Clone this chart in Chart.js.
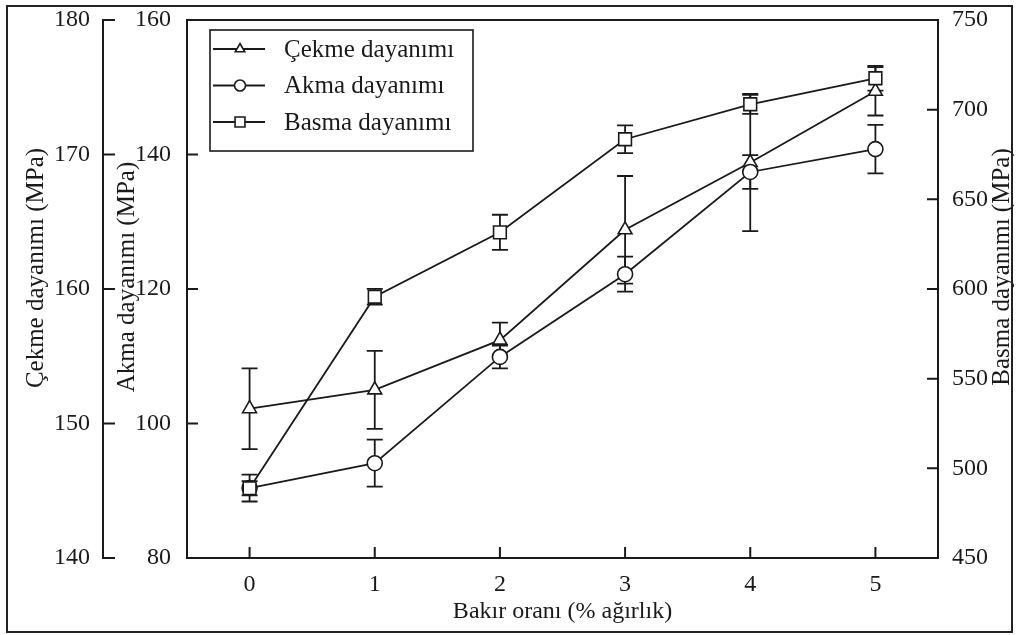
<!DOCTYPE html>
<html>
<head>
<meta charset="utf-8">
<script src="https://cdn.jsdelivr.net/npm/chart.js@4.4.1/dist/chart.umd.min.js"></script>
<style>
  html, body { margin: 0; padding: 0; background: #fff; }
  #wrap { width: 1018px; height: 635px; }
</style>
</head>
<body>
<div id="wrap"><canvas id="c" width="1018" height="635"></canvas></div>
<script>
// Copper content (wt.%) on the x axis
const categories = ['0', '1', '2', '3', '4', '5'];

// Tensile strength (MPa) and its standard deviation
const cekme    = [151.1, 152.5, 156.2, 164.4, 169.4, 174.7];
const cekmeErr = [3.0, 2.9, 1.3, 4.0, 5.1, 1.8];

// Yield strength (MPa) and its standard deviation
const akma     = [90.4, 94.1, 109.9, 122.2, 137.4, 140.8];
const akmaErr  = [2.0, 3.5, 1.7, 2.6, 2.5, 3.6];

// Compressive strength (MPa) and its standard deviation
const basma    = [488.9, 595.7, 631.6, 683.5, 703.0, 717.5];
const basmaErr = [4.0, 4.4, 9.8, 7.7, 5.3, 6.9];

const seriesNames = ['Çekme dayanımı', 'Akma dayanımı', 'Basma dayanımı'];

// Tick values of the three value axes
const cekmeTicks = [140, 150, 160, 170, 180];
const akmaTicks  = [80, 100, 120, 140, 160];
const basmaTicks = [450, 500, 550, 600, 650, 700, 750];

const xTitle     = 'Bakır oranı (% ağırlık)';
const cekmeTitle = 'Çekme dayanımı (MPa)';
const akmaTitle  = 'Akma dayanımı (MPa)';
const basmaTitle = 'Basma dayanımı (MPa)';

const INK = '#1a1a1a';
const FAMILY = '"Liberation Serif", "Times New Roman", serif';
const SIZE = 24;
const TITLE_SIZE = 25;

function setTicks(values) {
  return scale => { scale.ticks = values.map(v => ({ value: v })); };
}

function valueAxis(position, weight, min, max, tickValues, width, pad) {
  return {
    type: 'linear',
    position, weight, min, max,
    grid: { display: false, drawTicks: false },
    border: { display: false },
    title: { display: false },
    ticks: { color: INK, font: { family: FAMILY, size: SIZE }, padding: pad, autoSkip: false },
    afterBuildTicks: setTicks(tickValues),
    afterFit: scale => {
      scale.width = width;
      // end labels may overhang the plot; keep the plot height fixed
      scale.paddingTop = 0;
      scale.paddingBottom = 0;
    }
  };
}

function verticalText(ctx, text, x, y) {
  ctx.save();
  ctx.translate(x, y);
  ctx.rotate(-Math.PI / 2);
  ctx.textAlign = 'center';
  ctx.textBaseline = 'middle';
  ctx.fillText(text, 0, 0);
  ctx.restore();
}

function drawMarker(ctx, style, x, y, r) {
  ctx.beginPath();
  if (style === 'triangle') {
    ctx.moveTo(x, y - r);
    ctx.lineTo(x + r * 0.866, y + r * 0.5);
    ctx.lineTo(x - r * 0.866, y + r * 0.5);
    ctx.closePath();
  } else if (style === 'rect') {
    const h = r * Math.SQRT1_2;
    ctx.rect(x - h, y - h, 2 * h, 2 * h);
  } else {
    ctx.arc(x, y, r, 0, Math.PI * 2);
  }
  ctx.fill();
  ctx.stroke();
}

const decorations = {
  id: 'decorations',
  beforeDraw(chart) {
    const { ctx, width, height } = chart;
    ctx.save();
    ctx.fillStyle = '#fff';
    ctx.fillRect(0, 0, width, height);
    ctx.restore();
  },
  // error bars go underneath the hollow markers
  beforeDatasetsDraw(chart) {
    const { ctx } = chart;
    const xs = chart.scales.x;
    ctx.save();
    ctx.strokeStyle = INK;
    ctx.lineWidth = 1.8;
    chart.data.datasets.forEach(ds => {
      const ys = chart.scales[ds.yAxisID];
      ds.data.forEach((v, j) => {
        const e = ds.errors[j];
        const x = xs.getPixelForValue(j);
        const y1 = ys.getPixelForValue(v + e);
        const y2 = ys.getPixelForValue(v - e);
        ctx.beginPath();
        ctx.moveTo(x, y1); ctx.lineTo(x, y2);
        ctx.moveTo(x - 8, y1); ctx.lineTo(x + 8, y1);
        ctx.moveTo(x - 8, y2); ctx.lineTo(x + 8, y2);
        ctx.stroke();
      });
    });
    ctx.restore();
  },
  afterDatasetsDraw(chart) {
    const { ctx } = chart;
    const { left, right, top, bottom } = chart.chartArea;
    const xs = chart.scales.x, yc = chart.scales.yC, ya = chart.scales.yA, yb = chart.scales.yB;
    const TL = 11;

    ctx.save();
    ctx.strokeStyle = INK;
    ctx.lineWidth = 2;
    ctx.lineCap = 'butt';

    // plot frame
    ctx.strokeRect(left, top, right - left, bottom - top);

    ctx.beginPath();
    // inner left axis ticks (yield strength)
    ya.ticks.forEach(t => {
      const y = ya.getPixelForValue(t.value);
      ctx.moveTo(left, y); ctx.lineTo(left + TL, y);
    });
    // right axis ticks (compressive strength)
    yb.ticks.forEach(t => {
      const y = yb.getPixelForValue(t.value);
      ctx.moveTo(right, y); ctx.lineTo(right - TL, y);
    });
    // x ticks
    categories.forEach((c, j) => {
      const x = xs.getPixelForValue(j);
      ctx.moveTo(x, bottom); ctx.lineTo(x, bottom - TL);
    });
    // outer left axis (tensile strength) with its own spine
    const ox = yc.right;
    ctx.moveTo(ox, top - 1); ctx.lineTo(ox, bottom + 1);
    yc.ticks.forEach(t => {
      const y = yc.getPixelForValue(t.value);
      ctx.moveTo(ox, y); ctx.lineTo(ox + TL + 1, y);
    });
    ctx.stroke();

    // axis titles
    ctx.fillStyle = INK;
    ctx.font = TITLE_SIZE + 'px ' + FAMILY;
    verticalText(ctx, cekmeTitle, yc.left + 26, top + 248);
    verticalText(ctx, akmaTitle, ya.left + 24, top + 257);
    verticalText(ctx, basmaTitle, yb.right - 6, top + 247);

    // legend box
    const lx = left + 23, ly = top + 10, lw = 263, lh = 121;
    ctx.lineWidth = 1.6;
    ctx.strokeRect(lx, ly, lw, lh);
    ctx.textAlign = 'left';
    ctx.textBaseline = 'middle';
    chart.data.datasets.forEach((ds, i) => {
      const ry = top + 29 + i * 36.5;
      ctx.lineWidth = 1.8;
      ctx.beginPath();
      ctx.moveTo(lx + 3, ry); ctx.lineTo(lx + 55, ry);
      ctx.stroke();
      ctx.fillStyle = '#fff';
      ctx.lineWidth = 1.6;
      drawMarker(ctx, ds.pointStyle, lx + 30, ry, ds.pointStyle === 'rect' ? 7 : 5.5);
      ctx.fillStyle = INK;
      ctx.fillText(ds.label, lx + 74, ry + 1);
    });

    // figure border
    ctx.lineWidth = 2;
    ctx.strokeStyle = '#222';
    ctx.strokeRect(7, 6, chart.width - 13, chart.height - 9);
    ctx.restore();
  }
};

function series(label, data, errors, axis, style, radius, order) {
  return {
    label, data, errors, yAxisID: axis, order,
    borderColor: INK, borderWidth: 1.8,
    pointStyle: style, pointRadius: radius, pointHoverRadius: radius,
    pointBackgroundColor: '#fff', pointBorderColor: INK, pointBorderWidth: 1.6,
    fill: false, tension: 0
  };
}

new Chart(document.getElementById('c'), {
  type: 'line',
  data: {
    labels: categories,
    datasets: [
      series(seriesNames[0], cekme, cekmeErr, 'yC', 'triangle', 8, 2),
      series(seriesNames[1], akma, akmaErr, 'yA', 'circle', 7.5, 1),
      series(seriesNames[2], basma, basmaErr, 'yB', 'rect', 9, 0)
    ]
  },
  options: {
    responsive: false,
    animation: false,
    devicePixelRatio: 1,
    font: { family: FAMILY },
    layout: { padding: { left: 10, right: 10, top: 20, bottom: 6 } },
    plugins: { legend: { display: false }, tooltip: { enabled: false } },
    scales: {
      x: {
        type: 'category',
        offset: true,
        grid: { display: false, drawTicks: false },
        border: { display: false },
        ticks: { color: INK, font: { family: FAMILY, size: SIZE }, padding: 12, maxRotation: 0 },
        title: { display: true, text: xTitle, color: INK, font: { family: FAMILY, size: SIZE }, padding: { top: 4, bottom: 3 } },
        afterFit: scale => { scale.height = 71; }
      },
      yC: valueAxis('left', 2, 140, 180, cekmeTicks, 93, 13),
      yA: valueAxis('left', 1, 80, 160, akmaTicks, 84, 16),
      yB: valueAxis('right', 0, 450, 750, basmaTicks, 70, 14)
    }
  },
  plugins: [decorations]
});
</script>
</body>
</html>
